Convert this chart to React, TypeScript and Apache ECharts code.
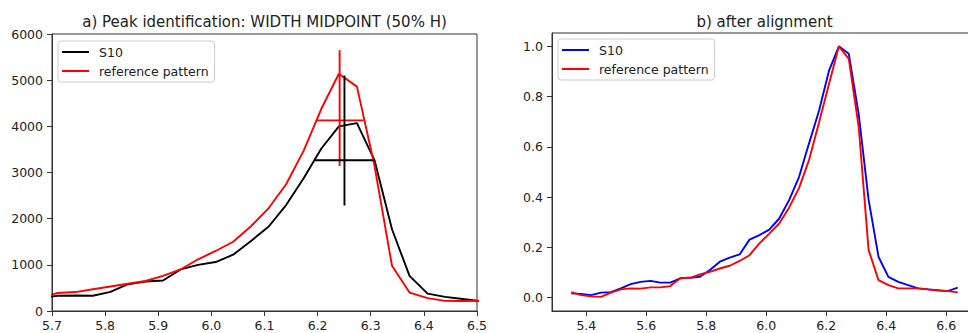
import React, { useEffect, useRef } from 'react';
import * as echarts from 'echarts';

// ---- a) Peak identification ----
const aX = [5.678, 5.711, 5.744, 5.777, 5.810, 5.843, 5.876, 5.909, 5.942, 5.975, 6.008, 6.041, 6.074, 6.108, 6.141, 6.174, 6.207, 6.240, 6.274, 6.307, 6.340, 6.373, 6.407, 6.440, 6.473, 6.506];
const aS10 = [280, 330, 335, 330, 415, 580, 640, 660, 900, 1000, 1060, 1220, 1510, 1830, 2300, 2880, 3520, 4000, 4070, 3270, 1770, 760, 375, 305, 260, 215];
const aRef = [300, 390, 410, 470, 530, 590, 650, 760, 900, 1120, 1300, 1500, 1830, 2230, 2750, 3480, 4380, 5140, 4860, 3150, 980, 400, 280, 220, 215, 220];
const refPeakV = [[6.2414, 3140], [6.2414, 5650]];
const refPeakH = [[6.1975, 4130], [6.2866, 4130]];
const s10PeakV = [[6.2505, 2285], [6.2505, 5100]];
const s10PeakH = [[6.1950, 3266], [6.3060, 3266]];
const aXTicks = [5.7, 5.8, 5.9, 6.0, 6.1, 6.2, 6.3, 6.4, 6.5];
const aYTicks = [0, 1000, 2000, 3000, 4000, 5000, 6000];

// ---- b) after alignment ----
const bX = [5.350, 5.383, 5.416, 5.449, 5.482, 5.515, 5.548, 5.581, 5.614, 5.647, 5.680, 5.713, 5.746, 5.779, 5.812, 5.845, 5.878, 5.911, 5.944, 5.977, 6.010, 6.043, 6.076, 6.109, 6.142, 6.176, 6.209, 6.242, 6.275, 6.308, 6.341, 6.374, 6.407, 6.440, 6.473, 6.506, 6.539, 6.572, 6.605, 6.638];
const bS10 = [0.017, 0.015, 0.010, 0.020, 0.022, 0.037, 0.054, 0.063, 0.067, 0.060, 0.060, 0.077, 0.079, 0.083, 0.110, 0.143, 0.159, 0.172, 0.231, 0.249, 0.271, 0.315, 0.388, 0.480, 0.612, 0.745, 0.903, 1.000, 0.970, 0.730, 0.390, 0.163, 0.083, 0.063, 0.050, 0.037, 0.033, 0.030, 0.026, 0.040];
const bRef = [0.022, 0.010, 0.005, 0.003, 0.020, 0.033, 0.037, 0.036, 0.041, 0.041, 0.046, 0.077, 0.079, 0.093, 0.103, 0.116, 0.127, 0.146, 0.169, 0.216, 0.255, 0.295, 0.358, 0.436, 0.546, 0.698, 0.850, 1.000, 0.950, 0.680, 0.190, 0.070, 0.050, 0.037, 0.037, 0.037, 0.033, 0.028, 0.026, 0.021];
const bXTicks = [5.4, 5.6, 5.8, 6.0, 6.2, 6.4, 6.6];
const bYTicks = [0, 0.2, 0.4, 0.6, 0.8, 1.0];

const titleA = 'a) Peak identification: WIDTH MIDPOINT (50% H)';
const titleB = 'b) after alignment';
const legendNames = ['S10', 'reference pattern'];

const FONT = 'DejaVu Sans';
const AXIS_COLOR = '#333';
const TEXT_COLOR = '#222';

const zip = (xs: number[], ys: number[]) => xs.map((x, i) => [x, ys[i]]);

function makeAxis(gridIndex: number, min: number, max: number, ticks: number[], fmt: (v: number) => string, isX: boolean) {
  return {
    type: 'value',
    gridIndex,
    min,
    max,
    axisLine: { show: true, onZero: false, lineStyle: { color: AXIS_COLOR, width: 1 } },
    axisTick: { show: true, inside: false, length: 5, lineStyle: { color: AXIS_COLOR, width: 1 }, customValues: ticks },
    axisLabel: {
      show: true,
      customValues: ticks,
      formatter: fmt,
      color: TEXT_COLOR,
      fontSize: 12.5,
      fontFamily: FONT,
      margin: isX ? 8 : 9,
      showMinLabel: true,
      showMaxLabel: true,
      hideOverlap: false,
    },
    splitLine: { show: false },
  };
}

function lineSeries(name: string, data: number[][], color: string, idx: number) {
  return {
    type: 'line',
    name,
    data,
    xAxisIndex: idx,
    yAxisIndex: idx,
    symbol: 'none',
    showSymbol: false,
    clip: true,
    silent: true,
    lineStyle: { color, width: 1.9 },
    itemStyle: { color },
    emphasis: { disabled: true },
  };
}

function makeLegend(left: number, top: number, colors: string[]) {
  return {
    orient: 'vertical',
    left,
    top,
    icon: 'rect',
    itemWidth: 27,
    itemHeight: 2,
    itemGap: 5,
    padding: [4, 6, 4, 4],
    backgroundColor: 'rgba(255,255,255,0.8)',
    borderColor: '#cccccc',
    borderWidth: 1,
    borderRadius: 3,
    selectedMode: false,
    textStyle: { fontSize: 12.5, fontFamily: FONT, color: TEXT_COLOR, lineHeight: 14, padding: [0, 0, 0, 5] },
    data: legendNames.map((n, i) => ({ name: n, itemStyle: { color: colors[i] }, lineStyle: { color: colors[i] } })),
  };
}

export default function App() {
  const ref = useRef<HTMLDivElement>(null);
  useEffect(() => {
    if (!ref.current) return;
    const chart = echarts.init(ref.current, null, { renderer: 'svg' });
    const option: any = {
      animation: false,
      backgroundColor: '#ffffff',
      textStyle: { fontFamily: FONT },
      grid: [
        { left: 52, right: 491, top: 34, bottom: 22, show: true, borderColor: AXIS_COLOR, borderWidth: 1, backgroundColor: 'transparent', containLabel: false, outerBoundsMode: 'none' },
        { left: 552, right: -9, top: 33, bottom: 22, show: true, borderColor: AXIS_COLOR, borderWidth: 1, backgroundColor: 'transparent', containLabel: false, outerBoundsMode: 'none' },
      ],
      xAxis: [
        makeAxis(0, 5.7, 6.5, aXTicks, (v: number) => v.toFixed(1), true),
        makeAxis(1, 5.2856, 6.7024, bXTicks, (v: number) => v.toFixed(1), true),
      ],
      yAxis: [
        makeAxis(0, 0, 6000, aYTicks, (v: number) => String(Math.round(v)), false),
        makeAxis(1, -0.053, 1.053, bYTicks, (v: number) => v.toFixed(1), false),
      ],
      legend: [
        makeLegend(58, 41, ['#000000', '#ff0000']),
        makeLegend(558, 39, ['#0000ff', '#ff0000']),
      ],
      graphic: [
        { type: 'text', x: 264.5, y: 22, style: { text: titleA, font: `15px "${FONT}"`, fill: TEXT_COLOR, textAlign: 'center', textVerticalAlign: 'middle' } },
        { type: 'text', x: 764.5, y: 22, style: { text: titleB, font: `15px "${FONT}"`, fill: TEXT_COLOR, textAlign: 'center', textVerticalAlign: 'middle' } },
      ],
      series: [
        lineSeries('S10', zip(aX, aS10), '#000000', 0),
        lineSeries('reference pattern', zip(aX, aRef), '#ff0000', 0),
        lineSeries('ref peak width', refPeakH, '#ff0000', 0),
        lineSeries('ref peak position', refPeakV, '#ff0000', 0),
        lineSeries('S10 peak width', s10PeakH, '#000000', 0),
        lineSeries('S10 peak position', s10PeakV, '#000000', 0),
        lineSeries('S10', zip(bX, bS10), '#0000ff', 1),
        lineSeries('reference pattern', zip(bX, bRef), '#ff0000', 1),
      ],
    };
    chart.setOption(option);
    return () => chart.dispose();
  }, []);
  return <div ref={ref} style={{ position: 'fixed', left: 0, top: 0, width: 968, height: 333 }} />;
}
